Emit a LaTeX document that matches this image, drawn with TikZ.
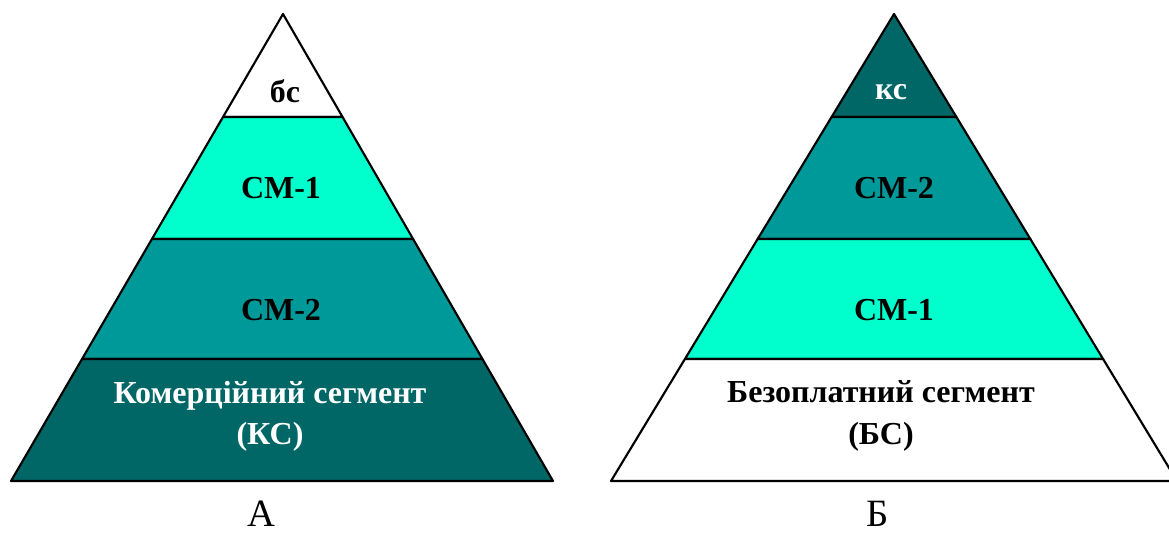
\documentclass[tikz,border=0pt]{standalone}
\usepackage{fontspec}
\setmainfont{Liberation Serif}
\usetikzlibrary{calc}
\definecolor{aqua}{HTML}{00FFCC}
\definecolor{tealmid}{HTML}{009999}
\definecolor{tealdark}{HTML}{006666}
\tikzstyle{band} = [draw=black, line width=1.6pt, line join=round]
\tikzstyle{tag} = [font=\bfseries\fontsize{24}{31}\selectfont, align=center, inner sep=0pt]
\tikzstyle{caption} = [font=\fontsize{29}{32}\selectfont, inner sep=0pt]

\begin{document}
\begin{tikzpicture}[x=0.75pt, y=-0.75pt]
    \useasboundingbox (0,0) rectangle (1169,536);
    \clip (0,0) rectangle (1169,536);

    % Pyramid A
    \coordinate (a-top) at (283,14);
    \coordinate (a-bl) at (11,481);
    \coordinate (a-br) at (553,481);
    \coordinate (a-l1) at ($(a-top)!0.2206!(a-bl)$);
    \coordinate (a-r1) at ($(a-top)!0.2206!(a-br)$);
    \coordinate (a-l2) at ($(a-top)!0.4818!(a-bl)$);
    \coordinate (a-r2) at ($(a-top)!0.4818!(a-br)$);
    \coordinate (a-l3) at ($(a-top)!0.7388!(a-bl)$);
    \coordinate (a-r3) at ($(a-top)!0.7388!(a-br)$);
    \filldraw[band, fill=white] (a-top) -- (a-r1) -- (a-l1) -- cycle;
    \filldraw[band, fill=aqua] (a-l1) -- (a-r1) -- (a-r2) -- (a-l2) -- cycle;
    \filldraw[band, fill=tealmid] (a-l2) -- (a-r2) -- (a-r3) -- (a-l3) -- cycle;
    \filldraw[band, fill=tealdark] (a-l3) -- (a-r3) -- (a-br) -- (a-bl) -- cycle;

    % Pyramid B
    \coordinate (b-top) at (894,14);
    \coordinate (b-bl) at (611,481);
    \coordinate (b-br) at (1177,481);
    \coordinate (b-l1) at ($(b-top)!0.2206!(b-bl)$);
    \coordinate (b-r1) at ($(b-top)!0.2206!(b-br)$);
    \coordinate (b-l2) at ($(b-top)!0.4818!(b-bl)$);
    \coordinate (b-r2) at ($(b-top)!0.4818!(b-br)$);
    \coordinate (b-l3) at ($(b-top)!0.7388!(b-bl)$);
    \coordinate (b-r3) at ($(b-top)!0.7388!(b-br)$);
    \filldraw[band, fill=tealdark] (b-top) -- (b-r1) -- (b-l1) -- cycle;
    \filldraw[band, fill=tealmid] (b-l1) -- (b-r1) -- (b-r2) -- (b-l2) -- cycle;
    \filldraw[band, fill=aqua] (b-l2) -- (b-r2) -- (b-r3) -- (b-l3) -- cycle;
    \filldraw[band, fill=white] (b-l3) -- (b-r3) -- (b-br) -- (b-bl) -- cycle;

    % Labels A
    \node[tag] (a-bs) at (285,91) {бс};
    \node[tag] (a-sm1) at (281,188) {СМ-1};
    \node[tag] (a-sm2) at (281,310) {СМ-2};
    \node[tag, text=white] (a-ks) at (270,416) {Комерційний сегмент\\(КС)};

    % Labels B
    \node[tag, text=white] (b-ks) at (891,92) {кс};
    \node[tag] (b-sm2) at (894,188) {СМ-2};
    \node[tag] (b-sm1) at (894,310) {СМ-1};
    \node[tag] (b-bs) at (881,416) {Безоплатний сегмент\\(БС)};

    % Captions
    \node[caption] (cap-a) at (261,514) {А};
    \node[caption] (cap-b) at (878,514) {Б};
\end{tikzpicture}
\end{document}
